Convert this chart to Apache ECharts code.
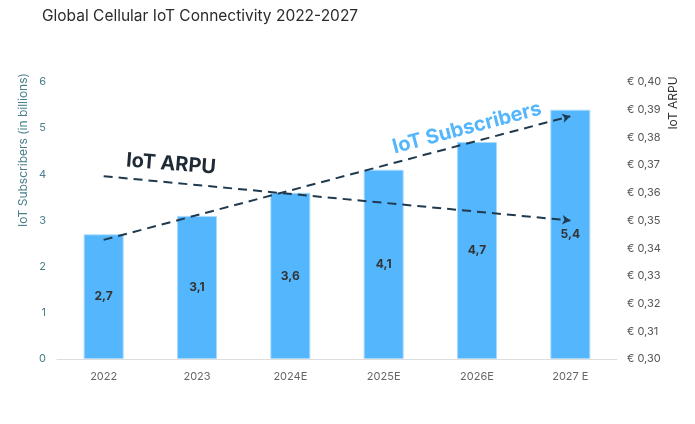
<!DOCTYPE html>
<html><head><meta charset="utf-8">
<script src="https://cdn.jsdelivr.net/npm/echarts@6/dist/echarts.min.js"></script>
<style>html,body{margin:0;padding:0;background:#fff}#c{width:695px;height:424px}</style>
</head><body><div id="c"></div>
<script>
const categories = ['2022', '2023', '2024E', '2025E', '2026E', '2027 E'];
const subscribers = [2.7, 3.1, 3.6, 4.1, 4.7, 5.4];
// trend arrows: value at first category and at last category
const subsTrend = [2.58, 5.26];
const arpuTrend = [0.366, 0.350];
const leftTicks = [0, 1, 2, 3, 4, 5, 6];
const rightTicks = ['€ 0,30', '€ 0,31', '€ 0,32', '€ 0,33', '€ 0,34', '€ 0,35', '€ 0,36', '€ 0,37', '€ 0,38', '€ 0,39', '€ 0,40'];

const FONT = 'Inter, "Noto Sans", sans-serif';
const chart = echarts.init(document.getElementById('c'), null, {renderer: 'canvas'});
const trendStyle = {color: '#1f3a4e', width: 2, type: [9, 6]};
const last = categories.length - 1;

chart.setOption({
  animation: false,
  backgroundColor: '#fff',
  textStyle: {fontFamily: FONT},
  title: {
    text: 'Global Cellular IoT Connectivity 2022-2027',
    left: 37, top: 3,
    textStyle: {fontFamily: FONT, fontSize: 15.5, fontWeight: 'normal', color: '#2b2b2b'}
  },
  grid: {left: 57, right: 78, top: 82, bottom: 65},
  xAxis: {
    type: 'category', data: categories,
    axisLine: {lineStyle: {color: '#dddddd', width: 1}},
    axisTick: {show: false},
    axisLabel: {color: '#666', fontSize: 11, margin: 12, fontFamily: FONT}
  },
  yAxis: [{
    type: 'value', min: 0, max: 6, interval: 1,
    splitLine: {show: false}, axisLine: {show: false}, axisTick: {show: false},
    axisLabel: {color: '#4a7f8c', fontSize: 11, margin: 11, fontFamily: FONT,
      formatter: v => String(leftTicks[Math.round(v)])}
  }, {
    type: 'value', min: 0.30, max: 0.40, interval: 0.01,
    splitLine: {show: false}, axisLine: {show: false}, axisTick: {show: false},
    axisLabel: {color: '#555', fontSize: 11, margin: 10, fontFamily: FONT,
      formatter: v => rightTicks[Math.round((v - 0.30) * 100)]}
  }],
  series: [{
    type: 'bar', name: 'IoT Subscribers', data: subscribers, barWidth: 40,
    itemStyle: {color: '#54b6fd', borderColor: '#a9dafc', borderWidth: 1},
    label: {show: true, position: 'inside', color: '#333', fontWeight: 'bold', fontSize: 12,
      fontFamily: FONT, formatter: p => String(p.value).replace('.', ',')},
    silent: true,
    markLine: {
      silent: true, symbol: ['none', 'arrow'], symbolSize: [7, 8],
      label: {show: false}, lineStyle: trendStyle,
      data: [[{coord: [0, subsTrend[0]]}, {coord: [last, subsTrend[1]]}]]
    }
  }, {
    type: 'line', name: 'IoT ARPU', yAxisIndex: 1,
    data: [arpuTrend[0], null, null, null, null, arpuTrend[1]],
    showSymbol: false, lineStyle: {opacity: 0}, silent: true,
    markLine: {
      silent: true, symbol: ['none', 'arrow'], symbolSize: [7, 8],
      label: {show: false}, lineStyle: trendStyle,
      data: [[{coord: [0, arpuTrend[0]]}, {coord: [last, arpuTrend[1]]}]]
    }
  }],
  graphic: [{
    type: 'text', x: 23, y: 150, rotation: Math.PI / 2,
    style: {text: 'IoT Subscribers (in billions)', fill: '#4a7f8c', font: '12px ' + FONT,
      textAlign: 'center', textVerticalAlign: 'middle'}
  }, {
    type: 'text', x: 673, y: 103, rotation: Math.PI / 2,
    style: {text: 'IoT ARPU', fill: '#333', font: '12px ' + FONT,
      textAlign: 'center', textVerticalAlign: 'middle'}
  }, {
    type: 'text', x: 171, y: 164, rotation: -0.08,
    style: {text: 'IoT ARPU', fill: '#1e2a36', font: 'bold 20px ' + FONT,
      textAlign: 'center', textVerticalAlign: 'middle'}
  }, {
    type: 'text', x: 467, y: 128, rotation: 0.26,
    style: {text: 'IoT Subscribers', fill: '#54b6fd', font: 'bold 20px ' + FONT,
      textAlign: 'center', textVerticalAlign: 'middle'}
  }]
});
</script></body></html>
